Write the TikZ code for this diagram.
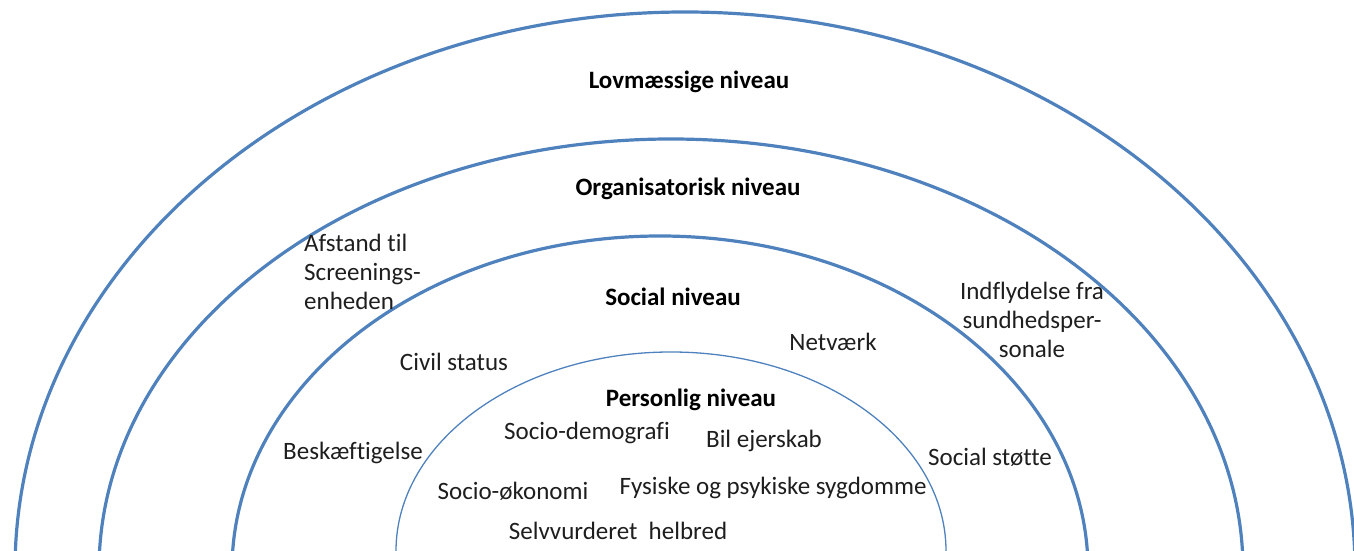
\documentclass[tikz,border=0pt]{standalone}
\usepackage{fontspec}
\setmainfont{Carlito}[Ligatures={NoCommon}]
\usepackage{tikz}
\definecolor{archblue}{RGB}{79,129,189}
\definecolor{textgray}{RGB}{30,30,30}
\newcommand{\levelfont}{\fontsize{25}{29}\selectfont}
\tikzstyle{level} = [font=\levelfont\bfseries, text=black, inner sep=0]
\tikzstyle{factor} = [font=\levelfont, text=textgray, align=center, inner sep=0]
\tikzstyle{arch} = [draw=archblue, line width=3.2pt]

\begin{document}
\begin{tikzpicture}[x=1pt,y=1pt]

    \clip (0,0) rectangle (1354,551);

% Arches, outer to inner
    \draw[arch] (15,-19) arc[start angle=180, end angle=0, x radius=670, y radius=558];
    \draw[arch] (99,-19) arc[start angle=180, end angle=0, x radius=572, y radius=431];
    \draw[arch] (232,-19) arc[start angle=180, end angle=0, x radius=428, y radius=334];
    \draw[archblue, line width=1.3pt] (396,0) arc[start angle=180, end angle=0, x radius=275, y radius=199];

% Level titles
    \node (lov) at (689,469) [level] {Lovmæssige niveau};
    \node (org) at (688,362) [level] {Organisatorisk niveau};
    \node (soc) at (673,254) [level] {Social niveau};
    \node (pers) at (691,151) [level] {Personlig niveau};

% Organisatorisk niveau
    \node (afstand) at (304,279) [factor, anchor=west, align=left] {Afstand til\\Screenings-\\enheden};
    \node (indfly) at (1032,231) [factor] {Indflydelse fra\\sundhedsper-\\sonale};

% Social niveau
    \node (civil) at (454,189) [factor] {Civil status};
    \node (netv) at (833,209) [factor] {Netværk};
    \node (besk) at (353,98) [factor] {Beskæftigelse};
    \node (stotte) at (990,94) [factor] {Social støtte};

% Personlig niveau
    \node (demo) at (587,118) [factor] {Socio-demografi};
    \node (bil) at (764,110) [factor] {Bil ejerskab};
    \node (oko) at (513,60) [factor] {Socio-økonomi};
    \node (syg) at (773,63) [factor] {Fysiske og psykiske sygdomme};
    \node (helbred) at (618,20) [factor] {Selvvurderet\ \ helbred};

\end{tikzpicture}
\end{document}
